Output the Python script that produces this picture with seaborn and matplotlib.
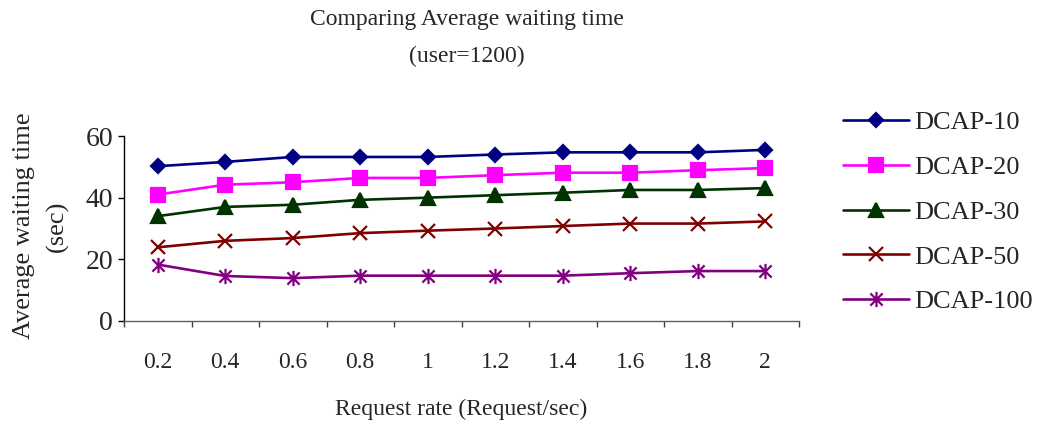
import numpy as np
import pandas as pd
import matplotlib
matplotlib.use("Agg")
import matplotlib.pyplot as plt
from matplotlib.path import Path
import seaborn as sns

# Request rates (categories on the x axis)
rates = ["0.2", "0.4", "0.6", "0.8", "1", "1.2", "1.4", "1.6", "1.8", "2"]

# Average waiting time (sec) per configuration
dcap_10 = [50.2, 51.6, 53.2, 53.2, 53.2, 54.0, 54.7, 54.7, 54.7, 55.5]
dcap_20 = [41.0, 44.2, 45.0, 46.4, 46.4, 47.3, 48.1, 48.1, 48.9, 49.6]
dcap_30 = [34.0, 37.0, 37.7, 39.3, 40.0, 40.8, 41.6, 42.5, 42.5, 43.1]
dcap_50 = [23.9, 26.0, 26.9, 28.5, 29.3, 30.0, 30.8, 31.6, 31.6, 32.3]
dcap_100 = [18.3, 14.6, 13.9, 14.7, 14.7, 14.7, 14.7, 15.5, 16.2, 16.2]

series_names = ["DCAP-10", "DCAP-20", "DCAP-30", "DCAP-50", "DCAP-100"]
series_values = [dcap_10, dcap_20, dcap_30, dcap_50, dcap_100]

sns.set_style("white")
plt.rcParams["font.family"] = ["Liberation Serif", "DejaVu Serif"]

# asterisk marker: vertical bar plus a cross
asterisk = Path(
    [(0, -1), (0, 1), (-0.8, -0.8), (0.8, 0.8), (-0.8, 0.8), (0.8, -0.8)],
    [Path.MOVETO, Path.LINETO, Path.MOVETO, Path.LINETO, Path.MOVETO, Path.LINETO],
)

styles = {
    "DCAP-10": dict(color="#000080", marker="D", markersize=7.2),
    "DCAP-20": dict(color="#FF00FF", marker="s", markersize=9.5),
    "DCAP-30": dict(color="#003300", marker="^", markersize=10.5),
    "DCAP-50": dict(color="#800000", marker="x", markersize=10.5),
    "DCAP-100": dict(color="#800080", marker=asterisk, markersize=11),
}

df = pd.concat(
    [pd.DataFrame({"rate": rates, "wait": vals, "series": name})
     for name, vals in zip(series_names, series_values)],
    ignore_index=True,
)

fig = plt.figure(figsize=(10.45, 4.22), dpi=100)
ax = fig.add_axes([124 / 1045, 1 - 321 / 422, (799 - 124) / 1045, (321 - 136) / 422])

for name in series_names:
    st = styles[name]
    sub = df[df["series"] == name]
    sns.lineplot(
        data=sub, x="rate", y="wait", ax=ax, sort=False,
        color=st["color"], marker=st["marker"], markersize=st["markersize"],
        markerfacecolor=st["color"], markeredgecolor=st["color"],
        markeredgewidth=1.6, linewidth=1.9, label=name,
    )

ax.set_xlim(-0.5, len(rates) - 0.5)
ax.set_ylim(0, 60)
ax.set_yticks([0, 20, 40, 60])
ax.set_xticks(range(len(rates)))
ax.set_xticklabels(rates)
ax.set_xticks(np.arange(-0.5, len(rates), 1.0), minor=True)
ax.tick_params(axis="x", which="major", length=0, labelsize=17, pad=22)
ax.tick_params(axis="x", which="minor", length=4, width=1, color="#404040", direction="out")
ax.tick_params(axis="y", which="major", length=4, width=1, color="#000000",
               direction="out", labelsize=20, pad=4)
ax.tick_params(axis="y", left=True)
ax.tick_params(axis="x", bottom=True, which="minor")

for side in ("top", "right"):
    ax.spines[side].set_visible(False)
ax.spines["left"].set_color("#000000")
ax.spines["left"].set_linewidth(1)
ax.spines["bottom"].set_color("#606060")
ax.spines["bottom"].set_linewidth(1)

ax.set_xlabel("")
ax.set_ylabel("")
fig.text(461 / 1045, 1 - 409 / 422, "Request rate (Request/sec)",
         ha="center", va="center", fontsize=17)
fig.text(24 / 1045, 1 - 226 / 422, "Average waiting time",
         ha="center", va="center", rotation=90, fontsize=19)
fig.text(57 / 1045, 1 - 226 / 422, "(sec)",
         ha="center", va="center", rotation=90, fontsize=19)
fig.text(467 / 1045, 1 - 20 / 422, "Comparing Average waiting time",
         ha="center", va="center", fontsize=17)
fig.text(467 / 1045, 1 - 56 / 422, "(user=1200)",
         ha="center", va="center", fontsize=17)

ax.legend(
    loc="center left", bbox_to_anchor=(843 / 1045, 1 - 212 / 422),
    bbox_transform=fig.transFigure, frameon=False, fontsize=19,
    borderpad=0, borderaxespad=0, handlelength=2.5, handletextpad=0.2,
    labelspacing=0.81,
)

fig.savefig("out.png", dpi=100, facecolor="white")
